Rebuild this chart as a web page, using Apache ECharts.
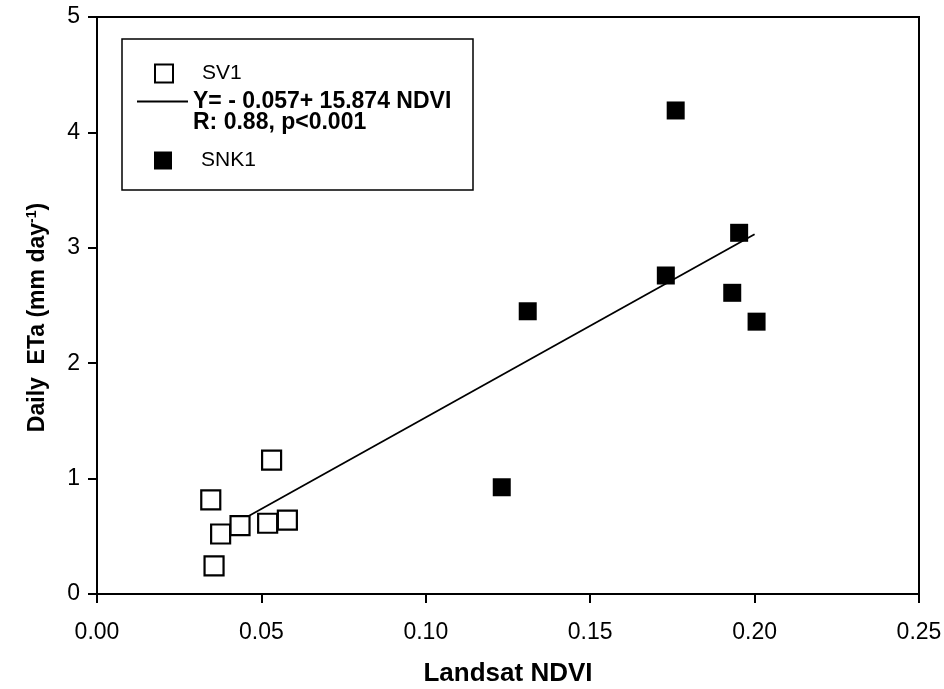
<!DOCTYPE html>
<html>
<head>
<meta charset="utf-8">
<script src="https://cdn.jsdelivr.net/npm/echarts@6/dist/echarts.min.js"></script>
<style>
html,body{margin:0;padding:0;background:#fff;}
#chart{width:944px;height:689px;}
</style>
</head>
<body>
<div id="chart"></div>
<script>
// ---- data ----
var sv1Name = 'SV1';
var snk1Name = 'SNK1';
var fitName = 'Y= - 0.057+ 15.874 NDVI';
var fitStats = 'R: 0.88, p<0.001';

var sv1NDVI = [0.0531, 0.0346, 0.0376, 0.0435, 0.0519, 0.0579, 0.0356];
var sv1ETa  = [1.16,   0.815,  0.52,   0.592,  0.613,  0.641,  0.243];

var snk1NDVI = [0.176, 0.1953, 0.173, 0.1932, 0.2006, 0.131, 0.1231];
var snk1ETa  = [4.19,  3.13,   2.76,  2.61,   2.36,   2.45,  0.925];

var fitNDVI = [0.046, 0.2];
var fitETa  = [0.673, 3.118];

var xTickLabels = ['0.00', '0.05', '0.10', '0.15', '0.20', '0.25'];
var yTickLabels = ['0', '1', '2', '3', '4', '5'];

var xTitle = 'Landsat NDVI';
var yTitleMain = 'Daily  ETa (mm day';
var yTitleSup = '-1';

function pairs(xs, ys) { return xs.map(function (x, i) { return [x, ys[i]]; }); }

var FONT = 'Liberation Sans, Arial, sans-serif';

var chart = echarts.init(document.getElementById('chart'), null, {renderer: 'canvas'});
chart.setOption({
  backgroundColor: '#fff',
  animation: false,
  grid: {left: 97, right: 25, top: 17, bottom: 95, containLabel: false, outerBoundsMode: 'none',
         show: true, borderColor: '#000', borderWidth: 2, backgroundColor: 'transparent'},
  xAxis: {
    type: 'value', min: 0, max: 0.25, interval: 0.05,
    axisLine: {show: true, onZero: false, lineStyle: {color: '#000', width: 2}},
    axisTick: {show: true, inside: false, length: 9, lineStyle: {color: '#000', width: 2}},
    splitLine: {show: false},
    axisLabel: {color: '#000', fontFamily: FONT, fontSize: 23, margin: 27,
      formatter: function (v) { return xTickLabels[Math.round(v / 0.05)]; }},
    name: xTitle, nameLocation: 'middle', nameGap: 67,
    nameTextStyle: {color: '#000', fontFamily: FONT, fontWeight: 'bold', fontSize: 26}
  },
  yAxis: {
    type: 'value', min: 0, max: 5, interval: 1,
    axisLine: {show: true, onZero: false, lineStyle: {color: '#000', width: 2}},
    axisTick: {show: true, inside: false, length: 9, lineStyle: {color: '#000', width: 2}},
    splitLine: {show: false},
    axisLabel: {color: '#000', fontFamily: FONT, fontSize: 23, margin: 17,
      formatter: function (v) { return yTickLabels[Math.round(v)]; }},
    name: '{a|' + yTitleMain + '}{s|' + yTitleSup + '}{a|)}',
    nameLocation: 'middle', nameGap: 46, nameRotate: 90,
    nameTextStyle: {
      padding: [0, 24, 0, 0],
      rich: {
        a: {color: '#000', fontFamily: FONT, fontWeight: 'bold', fontSize: 23, lineHeight: 26},
        s: {color: '#000', fontFamily: FONT, fontWeight: 'bold', fontSize: 14, verticalAlign: 'top', lineHeight: 26}
      }
    }
  },
  legend: [
    {
      left: 154, top: 63, orient: 'vertical', itemWidth: 18, itemHeight: 18, padding: 0,
      data: [{name: sv1Name, icon: 'rect'}], selectedMode: false,
      textStyle: {color: '#000', fontFamily: FONT, fontSize: 21, padding: [0, 0, 0, 24]}
    },
    {
      left: 137, top: 90, orient: 'vertical', itemWidth: 51, itemHeight: 2, padding: 0,
      data: [{name: fitName, icon: 'rect', itemStyle: {color: '#000', borderWidth: 0}}], selectedMode: false,
      textStyle: {color: '#000', fontFamily: FONT, fontWeight: 'bold', fontSize: 23}
    },
    {
      left: 154, top: 150, orient: 'vertical', itemWidth: 18, itemHeight: 18, padding: 0,
      data: [{name: snk1Name, icon: 'rect'}], selectedMode: false,
      textStyle: {color: '#000', fontFamily: FONT, fontSize: 21, padding: [0, 0, 0, 24]}
    }
  ],
  graphic: [
    {type: 'rect', z: 1, shape: {x: 122, y: 39, width: 351, height: 151},
     style: {fill: 'transparent', stroke: '#000', lineWidth: 1.5}},
    {type: 'text', z: 5, x: 193, y: 123,
     style: {text: fitStats, fill: '#000', font: 'bold 23px ' + FONT, verticalAlign: 'middle', align: 'left'}}
  ],
  series: [
    {
      name: sv1Name, type: 'scatter', symbol: 'rect', symbolSize: 19,
      itemStyle: {color: '#fff', borderColor: '#000', borderWidth: 2.2, opacity: 1},
      data: pairs(sv1NDVI, sv1ETa), z: 3
    },
    {
      name: fitName, type: 'line', symbol: 'none', showSymbol: false, smooth: false,
      lineStyle: {color: '#000', width: 1.8}, itemStyle: {color: '#000'},
      data: pairs(fitNDVI, fitETa), z: 2
    },
    {
      name: snk1Name, type: 'scatter', symbol: 'rect', symbolSize: 18,
      itemStyle: {color: '#000', borderColor: '#000', borderWidth: 0, opacity: 1},
      data: pairs(snk1NDVI, snk1ETa), z: 3
    }
  ]
});
</script>
</body>
</html>
